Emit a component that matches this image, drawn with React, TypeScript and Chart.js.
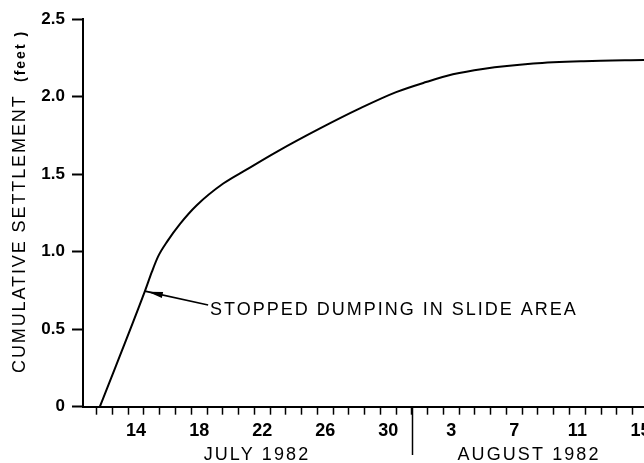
import React, { useEffect, useRef } from 'react';
import { Chart, registerables } from 'chart.js';

Chart.register(...registerables);

// Day positions counted from "0 July 1982" (August n = 31 + n), value at the day centre
const dayPositions = [11.7, 14.56, 15.0, 15.4, 16.0, 16.79, 17.85, 19.53, 21.0, 22.92, 25.67, 28.2, 30.5, 32.4, 34.1, 36.0, 39.2, 42.4, 46.2, 48.0];
const settlementFeet = [0, 0.746, 0.87, 0.97, 1.07, 1.18, 1.3, 1.44, 1.53, 1.645, 1.796, 1.925, 2.03, 2.095, 2.145, 2.18, 2.215, 2.23, 2.237, 2.24];

const julyLabelDays = [14, 18, 22, 26, 30];
const augustLabelDays = [3, 7, 11, 15];
const daysInJuly = 31;
const yTickValues = [0, 0.5, 1.0, 1.5, 2.0, 2.5];

const monthLabels = ['JULY 1982', 'AUGUST 1982'];
const monthLabelCenters = [21.67, 38.93];
const monthDivider = 31.5;

const yTitleMain = 'CUMULATIVE SETTLEMENT';
const yTitleUnit = '(feet )';

const annotationText = 'STOPPED DUMPING IN SLIDE AREA';
const annotationTip = [14.56, 0.746];
const annotationTail = [18.57, 0.656];
const annotationTextAt = [18.69, 0.624];

const X_MIN = 10.631;
const X_MAX = 48;
const FONT = "'Liberation Sans', Arial, Helvetica, sans-serif";

const overlayPlugin = {
  id: 'overlay',
  afterDraw(chart: any) {
    const { ctx } = chart;
    const xs = chart.scales.x;
    const ys = chart.scales.y;
    ctx.save();
    ctx.fillStyle = '#000';
    ctx.strokeStyle = '#000';

    // Y axis title (rotated)
    ctx.save();
    ctx.translate(25, 373);
    ctx.rotate(-Math.PI / 2);
    ctx.textAlign = 'left';
    ctx.textBaseline = 'alphabetic';
    ctx.font = `18px ${FONT}`;
    (ctx as any).letterSpacing = '1.9px';
    ctx.fillText(yTitleMain, 0, 0);
    ctx.font = `bold 14px ${FONT}`;
    (ctx as any).letterSpacing = '2px';
    ctx.fillText(yTitleUnit, 373 - 82, 0);
    ctx.restore();

    // month divider
    const dx = Math.round(xs.getPixelForValue(monthDivider)) + 0.5;
    ctx.lineWidth = 1.5;
    ctx.beginPath();
    ctx.moveTo(dx, ys.getPixelForValue(0));
    ctx.lineTo(dx, 455);
    ctx.stroke();

    // month labels
    ctx.font = `18px ${FONT}`;
    (ctx as any).letterSpacing = '2.1px';
    ctx.textAlign = 'center';
    ctx.textBaseline = 'middle';
    monthLabels.forEach((lab, i) => {
      ctx.fillText(lab, xs.getPixelForValue(monthLabelCenters[i]), 455);
    });

    // annotation arrow
    const tx = xs.getPixelForValue(annotationTip[0]);
    const ty = ys.getPixelForValue(annotationTip[1]);
    const ex = xs.getPixelForValue(annotationTail[0]);
    const ey = ys.getPixelForValue(annotationTail[1]);
    ctx.lineWidth = 1.6;
    ctx.beginPath();
    ctx.moveTo(tx, ty);
    ctx.lineTo(ex, ey);
    ctx.stroke();
    const ang = Math.atan2(ey - ty, ex - tx);
    const hx = tx + Math.cos(ang) * 3;
    const hy = ty + Math.sin(ang) * 3;
    const len = 15;
    const hw = 3;
    const bx = hx + Math.cos(ang) * len;
    const by = hy + Math.sin(ang) * len;
    ctx.beginPath();
    ctx.moveTo(hx, hy);
    ctx.lineTo(bx - Math.sin(ang) * hw, by + Math.cos(ang) * hw);
    ctx.lineTo(bx + Math.sin(ang) * hw, by - Math.cos(ang) * hw);
    ctx.closePath();
    ctx.fill();

    ctx.font = `18px ${FONT}`;
    (ctx as any).letterSpacing = '2.0px';
    ctx.textAlign = 'left';
    ctx.textBaseline = 'middle';
    ctx.fillText(annotationText, xs.getPixelForValue(annotationTextAt[0]), ys.getPixelForValue(annotationTextAt[1]));

    ctx.restore();
  },
};

export default function App() {
  const ref = useRef<HTMLCanvasElement>(null);

  useEffect(() => {
    if (!ref.current) return;
    const points = dayPositions.map((d, i) => ({ x: d, y: settlementFeet[i] }));
    const chart = new Chart(ref.current, {
      type: 'line',
      data: {
        datasets: [
          {
            data: points,
            borderColor: '#000',
            borderWidth: 2,
            pointRadius: 0,
            cubicInterpolationMode: 'monotone',
            fill: false,
          },
        ],
      },
      options: {
        animation: false,
        responsive: false,
        events: [],
        layout: { padding: { top: 19.3, left: 0, right: 700 - 671.94, bottom: 0 } },
        plugins: { legend: { display: false }, tooltip: { enabled: false } },
        scales: {
          x: {
            type: 'linear',
            min: X_MIN,
            max: X_MAX,
            afterFit(scale: any) {
              scale.height = 463 - 406.7;
            },
            afterBuildTicks(scale: any) {
              const t = [];
              for (let v = 11; v <= 48; v++) t.push({ value: v });
              scale.ticks = t;
            },
            grid: {
              offset: true,
              drawOnChartArea: false,
              drawTicks: true,
              tickLength: 8,
              tickColor: '#000',
              tickWidth: 1.5,
            },
            border: { display: true, color: '#000', width: 2 },
            ticks: {
              autoSkip: false,
              maxRotation: 0,
              minRotation: 0,
              padding: 6,
              color: '#000',
              font: { family: FONT, size: 18, weight: 'bold' },
              callback(value: any) {
                const v = Number(value);
                if (julyLabelDays.includes(v)) return String(v);
                if (augustLabelDays.includes(v - daysInJuly)) return String(v - daysInJuly);
                return '';
              },
            },
          },
          y: {
            type: 'linear',
            min: 0,
            max: 2.5,
            afterFit(scale: any) {
              scale.width = 83;
            },
            afterBuildTicks(scale: any) {
              scale.ticks = yTickValues.map((v) => ({ value: v }));
            },
            grid: {
              drawOnChartArea: false,
              drawTicks: true,
              tickLength: 11,
              tickColor: '#000',
              tickWidth: 2,
            },
            border: { display: true, color: '#000', width: 2 },
            ticks: {
              padding: 7,
              color: '#000',
              font: { family: FONT, size: 17, weight: 'bold' },
              callback(value: any) {
                const v = Number(value);
                return v === 0 ? '0' : v.toFixed(1);
              },
            },
          },
        },
      } as any,
      plugins: [overlayPlugin],
    });
    return () => chart.destroy();
  }, []);

  return (
    <div style={{ position: 'fixed', left: 0, top: 0, width: 644, height: 463, overflow: 'hidden', background: '#fff' }}>
      <canvas ref={ref} width={700} height={463} style={{ display: 'block', width: 700, height: 463 }} />
    </div>
  );
}
